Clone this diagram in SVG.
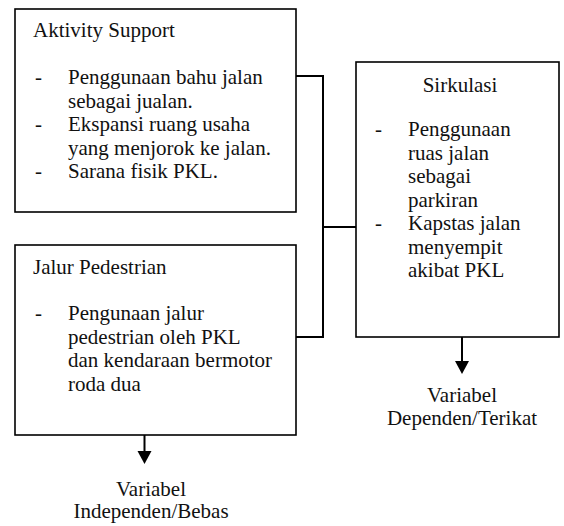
<svg xmlns="http://www.w3.org/2000/svg" width="564" height="526" viewBox="0 0 564 526">
<defs>
<style>
.box{fill:#fff;stroke:#000;stroke-width:1.6}
.tx{font-family:'Liberation Serif','Times New Roman',serif;font-size:21px;fill:#111}
.c{text-anchor:middle}
.ln{fill:none;stroke:#000;stroke-width:2}
.ah{fill:#000}
</style>
</defs>
<rect width="564" height="526" fill="#fff"/>
<g id="connectors">
<path class="ln" d="M296,76 H323 V337 H296"/>
<path class="ln" d="M323,227 H356"/>
<path class="ln" d="M144.5,435 V452"/>
<path class="ah" d="M137.5,451 L151.5,451 L144.5,464 Z"/>
<path class="ln" d="M462,337 V362"/>
<path class="ah" d="M455,361 L469,361 L462,374 Z"/>
</g>
<g id="aktivity">
<rect class="box" x="15" y="9" width="281" height="203"/>
<text class="tx" x="33" y="37">Aktivity Support</text>
<text class="tx" x="35" y="84">-</text>
<text class="tx" x="68" y="84">Penggunaan bahu jalan</text>
<text class="tx" x="68" y="107.5">sebagai jualan.</text>
<text class="tx" x="35" y="131">-</text>
<text class="tx" x="68" y="131">Ekspansi ruang usaha</text>
<text class="tx" x="68" y="154.5">yang menjorok ke jalan.</text>
<text class="tx" x="35" y="178">-</text>
<text class="tx" x="68" y="178">Sarana fisik PKL.</text>
</g>
<g id="jalur">
<rect class="box" x="15" y="245" width="281" height="190"/>
<text class="tx" x="33" y="274">Jalur Pedestrian</text>
<text class="tx" x="35" y="320">-</text>
<text class="tx" x="68" y="320">Pengunaan jalur</text>
<text class="tx" x="68" y="343.5">pedestrian oleh PKL</text>
<text class="tx" x="68" y="367">dan kendaraan bermotor</text>
<text class="tx" x="68" y="390.5">roda dua</text>
</g>
<g id="sirkulasi">
<rect class="box" x="356" y="62" width="203" height="275"/>
<text class="tx c" x="460" y="92">Sirkulasi</text>
<text class="tx" x="375" y="136">-</text>
<text class="tx" x="408" y="136">Penggunaan</text>
<text class="tx" x="408" y="159.5">ruas jalan</text>
<text class="tx" x="408" y="183">sebagai</text>
<text class="tx" x="408" y="206.5">parkiran</text>
<text class="tx" x="375" y="230">-</text>
<text class="tx" x="408" y="230">Kapstas jalan</text>
<text class="tx" x="408" y="253.5">menyempit</text>
<text class="tx" x="408" y="277">akibat PKL</text>
</g>
<g id="label-independen">
<text class="tx c" x="151" y="496">Variabel</text>
<text class="tx c" x="151" y="518">Independen/Bebas</text>
</g>
<g id="label-dependen">
<text class="tx c" x="462" y="402">Variabel</text>
<text class="tx c" x="462" y="425">Dependen/Terikat</text>
</g>
</svg>
